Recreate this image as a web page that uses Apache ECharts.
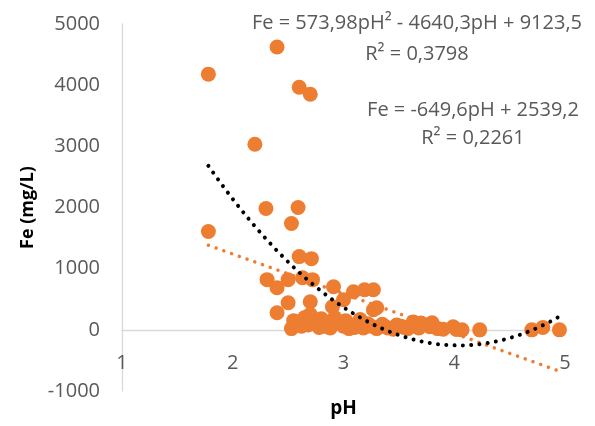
<!DOCTYPE html>
<html>
<head>
<meta charset="utf-8">
<script src="https://cdn.jsdelivr.net/npm/echarts@6/dist/echarts.min.js"></script>
<style>html,body{margin:0;padding:0;background:#fff}#c{width:595px;height:426px}</style>
</head>
<body>
<div id="c"></div>
<script>
// Measured data: pH values and Fe (mg/L)
const phValues = [1.78, 1.78, 2.40, 2.20, 2.60, 2.70, 2.30, 2.59, 2.53,
  2.60, 2.71, 2.31, 2.40, 2.50, 2.63, 2.72, 2.91, 2.50, 2.40, 2.70, 2.90, 3.00, 3.09, 3.19, 3.27, 3.27, 3.30,
  2.53, 2.60, 2.65, 2.68, 2.75, 2.78, 2.85, 2.88, 2.95, 3.00, 3.05, 3.12, 3.18, 3.25, 3.30, 3.35, 3.40, 3.45,
  3.52, 3.58, 3.63, 3.70, 3.78, 3.80, 3.85, 3.90, 3.99, 4.02, 4.07, 4.23, 4.70, 4.80, 4.95,
  2.55, 2.62, 2.70, 2.80, 2.83, 2.92, 3.02, 3.10, 3.15, 3.22, 3.38, 3.48, 3.55, 3.68, 3.75];
const feValues = [4180, 1607, 4623, 3033, 3967, 3852, 1984, 2000, 1738,
  1197, 1164, 820, 690, 820, 852, 820, 705, 443, 279, 459, 377, 492, 623, 656, 656, 328, 360,
  20, 130, 200, 80, 150, 40, 100, 30, 120, 60, 20, 90, 30, 60, 20, 90, 30, 10,
  60, 20, 130, 110, 50, 115, 20, 10, 50, 5, 0, 0, 0, 40, 0,
  150, 60, 250, 180, 60, 200, 150, 40, 170, 100, 50, 80, 40, 30, 80];

// Trendline coefficients as printed on the chart
const polyCoef = [9123.5, -4640.3, 573.98];   // c0 + c1*pH + c2*pH^2
const linCoef = [2539.2, -649.6];             // c0 + c1*pH
const labelPoly = ['Fe = 573,98pH² - 4640,3pH + 9123,5', 'R² = 0,3798'];
const labelLin = ['Fe = -649,6pH + 2539,2', 'R² = 0,2261'];

const yTicks = [-1000, 0, 1000, 2000, 3000, 4000, 5000];
const xTicks = [1, 2, 3, 4, 5];

const points = phValues.map((p, i) => [p, feValues[i]]);
const xMin = Math.min(...phValues), xMax = Math.max(...phValues);
const polyLine = [], linLine = [];
const steps = 80;
for (let i = 0; i <= steps; i++) {
  const x = xMin + (xMax - xMin) * i / steps;
  polyLine.push([x, polyCoef[0] + polyCoef[1] * x + polyCoef[2] * x * x]);
  linLine.push([x, linCoef[0] + linCoef[1] * x]);
}

const FONT = 'Open Sans';
const grey = '#595959';
const chart = echarts.init(document.getElementById('c'), null, {renderer: 'canvas'});
const tstyle = (t) => ({text: t, fill: grey, font: '20px "' + FONT + '"', align: 'center', verticalAlign: 'middle'});
chart.setOption({
  animation: false,
  grid: {left: 122, right: 30, top: 24, bottom: 35, outerBoundsMode: 'none', containLabel: false},
  xAxis: {
    type: 'value', min: xTicks[0], max: xTicks[xTicks.length - 1], interval: 1,
    axisLine: {onZero: true, lineStyle: {color: '#d9d9d9', width: 1.3}},
    axisTick: {show: false}, splitLine: {show: false},
    axisLabel: {color: grey, fontSize: 20, fontFamily: FONT, margin: -38, formatter: v => String(v)},
    name: 'pH', nameLocation: 'middle', nameGap: 8,
    nameTextStyle: {color: '#000', fontSize: 19, fontWeight: 'bold', fontFamily: FONT}
  },
  yAxis: {
    type: 'value', min: yTicks[0], max: yTicks[yTicks.length - 1], interval: 1000,
    axisLine: {show: true, lineStyle: {color: '#d9d9d9', width: 1.3}},
    axisTick: {show: false}, splitLine: {show: false},
    axisLabel: {color: grey, fontSize: 20, fontFamily: FONT, margin: 22, formatter: v => String(v)},
    name: 'Fe (mg/L)', nameLocation: 'middle', nameGap: 84,
    nameTextStyle: {color: '#000', fontSize: 18, fontWeight: 'bold', fontFamily: FONT}
  },
  graphic: [
    {type: 'text', x: 417, y: 23, style: tstyle(labelPoly[0])},
    {type: 'text', x: 417, y: 54, style: tstyle(labelPoly[1])},
    {type: 'text', x: 473, y: 110, style: tstyle(labelLin[0])},
    {type: 'text', x: 473, y: 138, style: tstyle(labelLin[1])}
  ],
  series: [
    {type: 'scatter', data: points, symbolSize: 15, itemStyle: {color: '#ED7D31', opacity: 1}, z: 2},
    {type: 'line', data: linLine, showSymbol: false, symbol: 'none', smooth: false, z: 3,
      lineStyle: {color: '#ED7D31', width: 3.5, type: [0.01, 8.2], cap: 'round'}},
    {type: 'line', data: polyLine, showSymbol: false, symbol: 'none', smooth: false, z: 4,
      lineStyle: {color: '#000', width: 4, type: [0.01, 8.3], cap: 'round'}}
  ]
});
</script>
</body>
</html>
